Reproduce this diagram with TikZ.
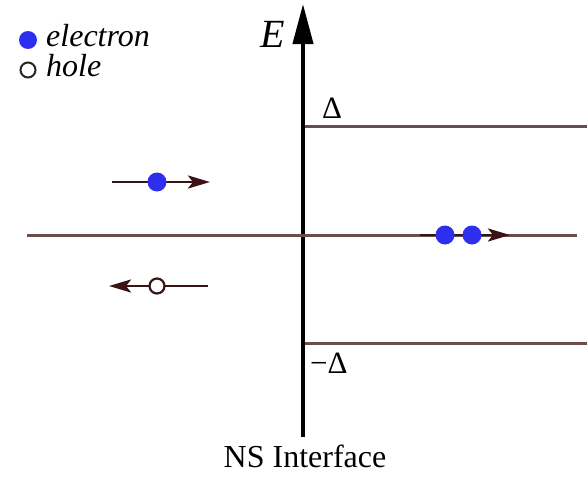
\documentclass[tikz,border=0pt]{standalone}
\usepackage{fontspec}
\setmainfont{Liberation Serif}
\usetikzlibrary{arrows.meta}
\definecolor{lvl}{HTML}{6A4E4E}
\definecolor{arr}{HTML}{3A1414}
\definecolor{eblue}{HTML}{2E2EEE}
\tikzset{
  level/.style={draw=lvl, line width=3pt},
  motion/.style={draw=arr, line width=2.8pt, -{Stealth[length=22pt,width=13pt,inset=5pt]}},
  electron/.style={circle, fill=eblue, inner sep=0pt, minimum size=19pt},
  hole/.style={circle, draw=arr, line width=2.2pt, fill=white, inner sep=0pt, minimum size=15pt},
  lbl/.style={inner sep=0pt, font=\fontsize{31}{34}\selectfont},
}
\begin{document}
\begin{tikzpicture}[x=1pt,y=-1pt]
\useasboundingbox (0,0) rectangle (587,479);
% axis
\coordinate (axb) at (303,437);
\coordinate (axt) at (303,4);
\draw[line width=4.2pt, -{Triangle[length=40pt,width=20pt]}] (axb) -- (axt);
\node[lbl, font=\fontsize{40}{44}\selectfont\itshape, anchor=base east] (E) at (285,47) {E};
% levels
\coordinate (fl) at (27,235);
\coordinate (fr) at (577,235);
\draw[level] (fl) -- (fr);
\coordinate (dl) at (305,126);
\coordinate (dr) at (587,126);
\draw[level] (dl) -- (dr);
\coordinate (ml) at (305,343);
\coordinate (mr) at (587,343);
\draw[level] (ml) -- (mr);
\node[lbl, anchor=base west] (D) at (322,118) {Δ};
\node[lbl, anchor=base west] (mD) at (310,373) {−Δ};
% left electron
\coordinate (e1a) at (112,182);
\coordinate (e1b) at (210,182);
\draw[motion] (e1a) -- (e1b);
\node[electron] (el1) at (157,182) {};
% left hole
\coordinate (h1a) at (208,286);
\coordinate (h1b) at (109,286);
\draw[motion] (h1a) -- (h1b);
\node[hole] (ho1) at (157,286) {};
% right pair
\coordinate (p1) at (420,235);
\coordinate (p2) at (510,235);
\draw[motion] (p1) -- (p2);
\node[electron] (el2) at (445,235) {};
\node[electron] (el3) at (472,235) {};
% legend
\node[electron, minimum size=18pt] (le) at (28,40) {};
\node[lbl, font=\fontsize{32}{34}\selectfont\itshape, anchor=base west] (lt1) at (46,46) {electron};
\node[hole, minimum size=15pt, line width=2pt, draw=black!85] (lh) at (28,70) {};
\node[lbl, font=\fontsize{32}{34}\selectfont\itshape, anchor=base west] (lt2) at (46,76) {hole};
% caption
\node[lbl, font=\fontsize{32}{34}\selectfont, anchor=base] (ns) at (305,467) {NS Interface};
\end{tikzpicture}
\end{document}
